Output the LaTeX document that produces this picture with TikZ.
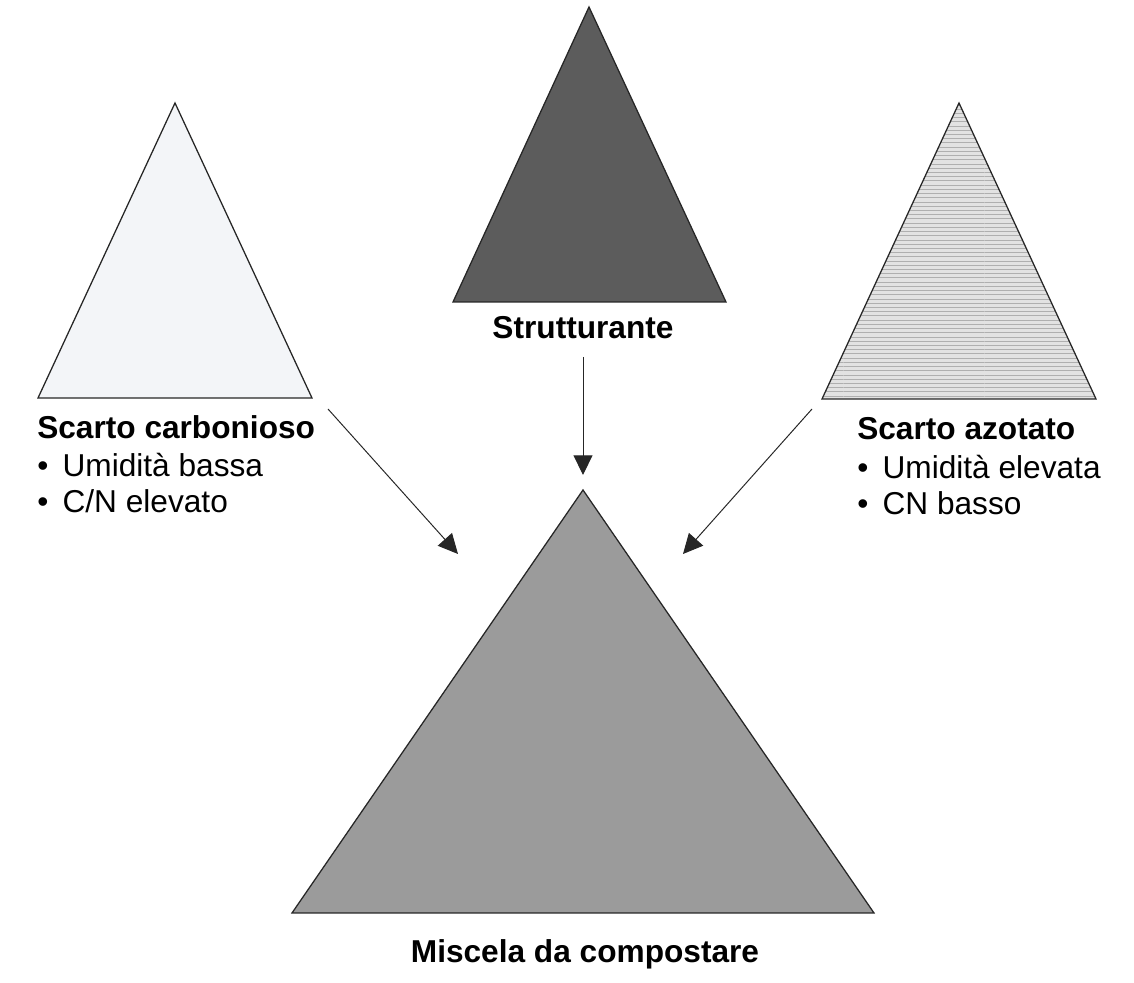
\documentclass[tikz,border=0pt]{standalone}
\usepackage{fontspec}
\setmainfont{Liberation Sans}
\usetikzlibrary{arrows.meta, patterns}

\definecolor{carbfill}{RGB}{243,245,248}
\definecolor{strutfill}{RGB}{92,92,92}
\definecolor{azotfill}{RGB}{226,226,226}
\definecolor{azotline}{RGB}{175,175,175}
\definecolor{miscfill}{RGB}{155,155,155}
\newcommand{\dotitem}[1]{\makebox[0.8em][l]{•}#1}

\begin{document}
\begin{tikzpicture}[x=0.025cm, y=-0.025cm,
	pile/.style={draw=black!85, line width=0.9pt, line join=miter},
	feed/.style={draw=black!85, line width=0.7pt, -{Triangle[length=14pt, width=13.5pt]}},
	title/.style={font=\fontsize{22.5}{26}\selectfont\bfseries, inner sep=0pt},
	item/.style={font=\fontsize{22.5}{26}\selectfont, inner sep=0pt}]
	\useasboundingbox (0,0) rectangle (1134,983);
	% piles
	\filldraw[pile, fill=carbfill] (175,103) -- (38,398) -- (312,398) -- cycle;
	\filldraw[pile, fill=strutfill] (589,7) -- (453,302) -- (726,302) -- cycle;
	\fill[azotfill] (959,103) -- (822,399) -- (1096,399) -- cycle;
	\fill[pattern=horizontal lines, pattern color=azotline] (959,103) -- (822,399) -- (1096,399) -- cycle;
	\draw[pile] (959,103) -- (822,399) -- (1096,399) -- cycle;
	\filldraw[pile, fill=miscfill] (583,490) -- (292,913) -- (874,913) -- cycle;
	% labels
	\node[title, anchor=base west] (carbT) at (37,439) {Scarto carbonioso};
	\node[item, anchor=base west] (carbA) at (37,477) {\dotitem{Umidità bassa}};
	\node[item, anchor=base west] (carbB) at (37,513) {\dotitem{C/N elevato}};
	\node[title, anchor=base] (strut) at (583,339) {Strutturante};
	\node[title, anchor=base west] (azotT) at (857,440) {Scarto azotato};
	\node[item, anchor=base west] (azotA) at (857,479) {\dotitem{Umidità elevata}};
	\node[item, anchor=base west] (azotB) at (857,515) {\dotitem{CN basso}};
	\node[title, anchor=base] (misc) at (585,963) {Miscela da compostare};
	% arrows
	\coordinate (carbOut) at (328,409);
	\coordinate (carbIn) at (458,554);
	\coordinate (strutOut) at (583,357);
	\coordinate (strutIn) at (583,475);
	\coordinate (azotOut) at (812,409);
	\coordinate (azotIn) at (683,554);
	\draw[feed] (carbOut) -- (carbIn);
	\draw[feed] (strutOut) -- (strutIn);
	\draw[feed] (azotOut) -- (azotIn);
\end{tikzpicture}
\end{document}
